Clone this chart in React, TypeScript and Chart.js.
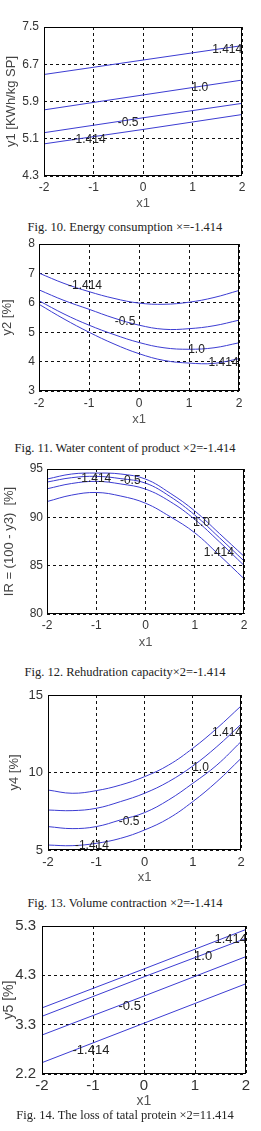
import React, { useEffect, useRef } from "react";
import { Chart, registerables } from "chart.js";
Chart.register(...registerables);

// ---------- shared axis data ----------
const X_TICKS = [-2, -1, 0, 1, 2];
const X_TICK_LABELS = ["-2", "-1", "0", "1", "2"];
const LINE_X = [-2, 0, 2];
const CURVE_X = [-2, -1.5, -1, -0.5, 0, 0.5, 1, 1.5, 2];

// ---------- Fig. 10: energy consumption ----------
const f10YTicks = [4.3, 5.1, 5.9, 6.7, 7.5];
const f10YLabels = ["4.3", "5.1", "5.9", "6.7", "7.5"];
const f10S1 = [6.48, 6.79, 7.1];
const f10S2 = [5.72, 6.04, 6.36];
const f10S3 = [5.23, 5.55, 5.86];
const f10S4 = [4.99, 5.3, 5.62];
const f10LabelText = ["1.414", "1.0", "-0.5", "-1.414"];
const f10LabelX = [1.7, 1.15, -0.3, -1.1];
const f10LabelY = [7.01, 6.2, 5.44, 5.09];

// ---------- Fig. 11: water content ----------
const f11YTicks = [3, 4, 5, 6, 7, 8];
const f11YLabels = ["3", "4", "5", "6", "7", "8"];
const f11S1 = [7.01, 6.66, 6.38, 6.15, 5.99, 5.95, 6.02, 6.18, 6.42];
const f11S2 = [6.44, 6.08, 5.78, 5.48, 5.24, 5.1, 5.12, 5.22, 5.41];
const f11S3 = [6.07, 5.62, 5.24, 4.92, 4.65, 4.47, 4.42, 4.47, 4.64];
const f11S4 = [5.95, 5.45, 5.0, 4.6, 4.27, 4.04, 3.95, 3.94, 4.1];
const f11LabelText = ["-1.414", "-0.5", "1.0", "1.414"];
const f11LabelX = [-1.08, -0.28, 1.15, 1.69];
const f11LabelY = [6.58, 5.36, 4.42, 3.95];

// ---------- Fig. 12: rehydration capacity ----------
const f12YTicks = [80, 85, 90, 95];
const f12YLabels = ["80", "85", "90", "95"];
const f12S1 = [93.96, 94.48, 94.58, 94.48, 93.96, 92.5, 90.66, 88.33, 85.97];
const f12S2 = [93.65, 94.1, 94.24, 94.0, 93.54, 92.15, 90.24, 87.9, 85.49];
const f12S3 = [92.95, 93.5, 93.72, 93.45, 92.92, 91.63, 89.79, 87.47, 85.03];
const f12S4 = [91.63, 92.3, 92.57, 92.2, 91.46, 90.07, 88.4, 86.08, 83.65];
const f12LabelText = ["-1.414", "-0.5", "1.0", "1.414"];
const f12LabelX = [-1.04, -0.31, 1.14, 1.49];
const f12LabelY = [93.96, 93.78, 89.44, 86.35];

// ---------- Fig. 13: volume contraction ----------
const f13YTicks = [5, 10, 15];
const f13YLabels = ["5", "10", "15"];
const f13S1 = [8.87, 8.66, 8.83, 9.19, 9.73, 10.48, 11.56, 12.85, 14.29];
const f13S2 = [7.58, 7.54, 7.69, 8.12, 8.66, 9.41, 10.42, 11.67, 13.11];
const f13S3 = [6.51, 6.38, 6.51, 6.94, 7.41, 8.23, 9.3, 10.48, 11.99];
const f13S4 = [5.32, 5.28, 5.43, 5.75, 6.29, 7.04, 8.12, 9.41, 10.91];
const f13LabelText = ["1.414", "1.0", "-0.5", "-1.414"];
const f13LabelX = [1.71, 1.16, -0.32, -1.09];
const f13LabelY = [12.57, 10.33, 6.83, 5.26];

// ---------- Fig. 14: loss of total protein ----------
const f14YTicks = [2.3, 3.3, 4.3, 5.3];
const f14YLabels = ["2.2", "3.3", "4.3", "5.3"];
const f14S1 = [3.64, 4.43, 5.23];
const f14S2 = [3.47, 4.27, 5.05];
const f14S3 = [3.09, 3.88, 4.68];
const f14S4 = [2.53, 3.33, 4.13];
const f14LabelText = ["1.414", "1.0", "-0.5", "-1.414"];
const f14LabelX = [1.7, 1.16, -0.28, -1.04];
const f14LabelY = [5.02, 4.68, 3.66, 2.77];

const CAPTIONS = [
  "Fig. 10. Energy consumption \u00d7=-1.414",
  "Fig. 11. Water content of product \u00d72=-1.414",
  "Fig. 12. Rehudration capacity\u00d72=-1.414",
  "Fig. 13. Volume contraction \u00d72=-1.414",
  "Fig. 14. The loss of tatal protein \u00d72=11.414",
];

// ---------- styles ----------
const LINE_COLOR = "#3c3cd2";
const SANS = '"Liberation Sans", Arial, sans-serif';
const SERIF = '"Liberation Serif", "Times New Roman", serif';
const PAD_TOP = 15;
const W = 261;

type Spec = {
  l: number; r: number; t: number; b: number;
  yMin: number; yMax: number; yTicks: number[]; yLabels: string[];
  yTitle: string; xTitle: string;
  xs: number[]; series: number[][]; tension: number;
  lt: string[]; lx: number[]; ly: number[];
  tickFont: number; titleFont: number; labelFont: number;
  yTickPad: number; xTickPad: number; axisH: number; xTitlePad: number; yTitlePad: number;
  captionY: number;
};

const SPECS: Spec[] = [
  {
    l: 44, r: 242, t: 27, b: 176, yMin: 4.3, yMax: 7.5, yTicks: f10YTicks, yLabels: f10YLabels,
    yTitle: "y1 [KWh/kg SP]", xTitle: "x1", xs: LINE_X, series: [f10S1, f10S2, f10S3, f10S4], tension: 0,
    lt: f10LabelText, lx: f10LabelX, ly: f10LabelY,
    tickFont: 12, titleFont: 13, labelFont: 12, yTickPad: 5, xTickPad: 4, axisH: 37, xTitlePad: 2, yTitlePad: 4,
    captionY: 226.7,
  },
  {
    l: 39, r: 239, t: 244, b: 391, yMin: 3, yMax: 8, yTicks: f11YTicks, yLabels: f11YLabels,
    yTitle: "y2 [%]", xTitle: "x1", xs: CURVE_X, series: [f11S1, f11S2, f11S3, f11S4], tension: 0.4,
    lt: f11LabelText, lx: f11LabelX, ly: f11LabelY,
    tickFont: 12, titleFont: 13, labelFont: 12, yTickPad: 4, xTickPad: 5, axisH: 38, xTitlePad: 2, yTitlePad: 0,
    captionY: 447.7,
  },
  {
    l: 47, r: 244, t: 469, b: 614, yMin: 80, yMax: 95, yTicks: f12YTicks, yLabels: f12YLabels,
    yTitle: "IR = (100 - y3)  [%]", xTitle: "x1", xs: CURVE_X, series: [f12S1, f12S2, f12S3, f12S4], tension: 0.4,
    lt: f12LabelText, lx: f12LabelX, ly: f12LabelY,
    tickFont: 12, titleFont: 13, labelFont: 12, yTickPad: 4, xTickPad: 4, axisH: 38, xTitlePad: 2, yTitlePad: 1.5,
    captionY: 671.7,
  },
  {
    l: 48, r: 241, t: 695, b: 850, yMin: 5, yMax: 15, yTicks: f13YTicks, yLabels: f13YLabels,
    yTitle: "y4 [%]", xTitle: "x1", xs: CURVE_X, series: [f13S1, f13S2, f13S3, f13S4], tension: 0.4,
    lt: f13LabelText, lx: f13LabelX, ly: f13LabelY,
    tickFont: 13, titleFont: 13, labelFont: 12, yTickPad: 5, xTickPad: 5, axisH: 37, xTitlePad: 2, yTitlePad: 7,
    captionY: 903,
  },
  {
    l: 42, r: 246, t: 926, b: 1074, yMin: 2.3, yMax: 5.3, yTicks: f14YTicks, yLabels: f14YLabels,
    yTitle: "y5 [%]", xTitle: "x1", xs: LINE_X, series: [f14S1, f14S2, f14S3, f14S4], tension: 0,
    lt: f14LabelText, lx: f14LabelX, ly: f14LabelY,
    tickFont: 15, titleFont: 14, labelFont: 13, yTickPad: 6, xTickPad: 3, axisH: 38, xTitlePad: 2, yTitlePad: 1,
    captionY: 1115,
  },
];

function Panel({ spec }: { spec: Spec }) {
  const ref = useRef<HTMLCanvasElement>(null);
  const H = PAD_TOP + (spec.b - spec.t) + spec.axisH;
  useEffect(() => {
    const framePlugin = {
      id: "frame",
      afterDatasetsDraw(chart: any) {
        const { ctx, scales } = chart;
        ctx.save();
        ctx.font = `${spec.labelFont}px ${SANS}`;
        ctx.fillStyle = "#222";
        ctx.textAlign = "center";
        ctx.textBaseline = "middle";
        spec.lt.forEach((txt, i) => {
          ctx.fillText(txt, scales.x.getPixelForValue(spec.lx[i]), scales.y.getPixelForValue(spec.ly[i]));
        });
        ctx.restore();
      },
      afterDraw(chart: any) {
        const { ctx, chartArea } = chart;
        ctx.save();
        ctx.strokeStyle = "#000";
        ctx.lineWidth = 1;
        ctx.setLineDash([]);
        const x0 = Math.round(chartArea.left) + 0.5;
        const y0 = Math.round(chartArea.top) + 0.5;
        const x1 = Math.round(chartArea.right) - 0.5;
        const y1 = Math.round(chartArea.bottom) - 0.5;
        ctx.strokeRect(x0, y0, x1 - x0, y1 - y0);
        ctx.restore();
      },
    };
    const chart = new Chart(ref.current as HTMLCanvasElement, {
      type: "line",
      data: {
        datasets: spec.series.map((ys) => ({
          data: spec.xs.map((x, i) => ({ x, y: ys[i] })),
          borderColor: LINE_COLOR,
          borderWidth: 1,
          pointRadius: 0,
          tension: spec.tension,
          fill: false,
        })),
      },
      options: {
        animation: false,
        responsive: false,
        maintainAspectRatio: false,
        devicePixelRatio: 1,
        layout: { padding: { top: PAD_TOP, right: W - spec.r, left: 0, bottom: 0 } },
        plugins: { legend: { display: false }, tooltip: { enabled: false } },
        scales: {
          x: {
            type: "linear",
            min: -2,
            max: 2,
            afterBuildTicks: (s: any) => { s.ticks = X_TICKS.map((v) => ({ value: v })); },
            afterFit: (s: any) => { s.height = spec.axisH; },
            ticks: {
              callback: (_v: any, i: number) => X_TICK_LABELS[i],
              padding: spec.xTickPad,
              font: { family: SANS, size: spec.tickFont },
              color: "#333",
              maxRotation: 0,
            },
            grid: { color: "#111", lineWidth: 1, drawTicks: false },
            border: { display: false, dash: [3, 3] },
            title: {
              display: true, text: spec.xTitle, color: "#555",
              font: { family: SANS, size: spec.titleFont },
              padding: { top: 0, bottom: spec.xTitlePad },
            },
          },
          y: {
            type: "linear",
            min: spec.yMin,
            max: spec.yMax,
            afterBuildTicks: (s: any) => { s.ticks = spec.yTicks.map((v) => ({ value: v })); },
            afterFit: (s: any) => { s.width = spec.l; },
            ticks: {
              callback: (_v: any, i: number) => spec.yLabels[i],
              padding: spec.yTickPad,
              font: { family: SANS, size: spec.tickFont },
              color: "#333",
            },
            grid: { color: "#111", lineWidth: 1, drawTicks: false },
            border: { display: false, dash: [3, 3] },
            title: {
              display: true, text: spec.yTitle, color: "#444",
              font: { family: SANS, size: spec.titleFont },
              padding: { top: spec.yTitlePad, bottom: 0 },
            },
          },
        },
      } as any,
      plugins: [framePlugin],
    });
    return () => chart.destroy();
  }, [spec]);
  return (
    <canvas
      ref={ref}
      width={W}
      height={H}
      style={{ position: "absolute", left: 0, top: spec.t - PAD_TOP, width: W, height: H }}
    />
  );
}

export default function App() {
  return (
    <div style={{ position: "absolute", left: 0, top: 0, width: W, height: 1131, background: "#fff", overflow: "hidden" }}>
      {SPECS.map((s, i) => (
        <React.Fragment key={i}>
          <Panel spec={s} />
          <div
            style={{
              position: "absolute", left: 0, width: 250, top: s.captionY - 8, height: 16, lineHeight: "16px",
              textAlign: "center", fontFamily: SERIF, fontSize: 12.5, color: "#222", whiteSpace: "nowrap",
            }}
          >
            {CAPTIONS[i]}
          </div>
        </React.Fragment>
      ))}
    </div>
  );
}
